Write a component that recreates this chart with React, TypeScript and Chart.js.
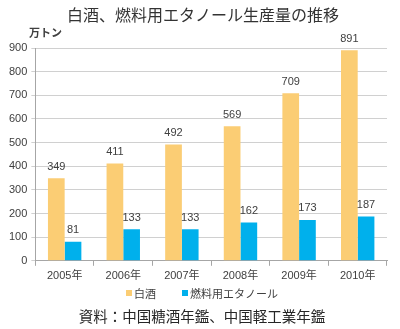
import React, { useEffect, useRef } from "react";
import { Chart, registerables } from "chart.js";

Chart.register(...registerables);

const categories = ["2005年", "2006年", "2007年", "2008年", "2009年", "2010年"];
const baijiu = [349, 411, 492, 569, 709, 891];
const ethanol = [81, 133, 133, 162, 173, 187];
const seriesNames = ["白酒", "燃料用エタノール"];
const seriesColors = ["#FBCD74", "#00B0EC"];
const titleText = "白酒、燃料用エタノール生産量の推移";
const unitText = "万トン";
const sourceText = "資料：中国糖酒年鑑、中国軽工業年鑑";

const JP = "'Noto Sans CJK JP', 'Noto Sans', sans-serif";
const NUM = "'Liberation Sans', 'Noto Sans CJK JP', sans-serif";

const extrasPlugin = {
  id: "extras",
  afterDatasetsDraw(chart: any) {
    const ctx = chart.ctx;
    ctx.save();
    ctx.fillStyle = "#404040";
    ctx.font = `11px ${NUM}`;
    ctx.textAlign = "center";
    ctx.textBaseline = "bottom";
    chart.data.datasets.forEach((ds: any, i: number) => {
      const meta = chart.getDatasetMeta(i);
      meta.data.forEach((el: any, j: number) => {
        ctx.fillText(String(ds.data[j]), el.x, el.y - 6);
      });
    });
    ctx.restore();
  },
  afterDraw(chart: any) {
    const ctx = chart.ctx;
    ctx.save();
    ctx.fillStyle = "#333333";
    ctx.textAlign = "center";
    ctx.textBaseline = "middle";
    ctx.font = `16px ${JP}`;
    ctx.fillText(titleText, 203, 15);
    ctx.font = `bold 11px ${JP}`;
    ctx.fillStyle = "#404040";
    ctx.textAlign = "left";
    ctx.fillText(unitText, 29, 33);
    // legend
    ctx.font = `11px ${JP}`;
    const legendX = [126, 182];
    chart.data.datasets.forEach((ds: any, i: number) => {
      ctx.fillStyle = seriesColors[i];
      ctx.fillRect(legendX[i], 290, 6, 6);
      ctx.fillStyle = "#404040";
      ctx.fillText(ds.label, legendX[i] + 8, 293.5);
    });
    ctx.font = `14.5px ${JP}`;
    ctx.fillStyle = "#262626";
    ctx.textAlign = "center";
    ctx.fillText(sourceText, 202, 316);
    ctx.restore();
  },
};

export default function App() {
  const ref = useRef<HTMLCanvasElement>(null);
  useEffect(() => {
    document.body.style.margin = "0";
    const chart = new Chart(ref.current!, {
      type: "bar",
      data: {
        labels: categories,
        datasets: [
          { label: seriesNames[0], data: baijiu, backgroundColor: seriesColors[0], categoryPercentage: 0.57, barPercentage: 1 },
          { label: seriesNames[1], data: ethanol, backgroundColor: seriesColors[1], categoryPercentage: 0.57, barPercentage: 1 },
        ],
      },
      options: {
        responsive: false,
        animation: false,
        layout: { padding: { top: 48, left: 5, right: 13, bottom: 42 } },
        plugins: {
          title: { display: false },
          tooltip: { enabled: false },
          legend: { display: false },
        },
        scales: {
          x: {
            grid: { drawOnChartArea: false, drawTicks: true, tickLength: 5, color: "#A6A6A6", offset: true },
            border: { color: "#A6A6A6" },
            ticks: { color: "#404040", font: { size: 11, family: NUM }, padding: 4 },
          },
          y: {
            min: 0,
            max: 900,
            ticks: { stepSize: 100, color: "#404040", font: { size: 11, family: NUM }, padding: 4 },
            grid: { color: "#D0D0D0", tickLength: 4 },
            border: { color: "#A6A6A6" },
          },
        },
      },
      plugins: [extrasPlugin],
    });
    return () => chart.destroy();
  }, []);
  return <canvas ref={ref} width={400} height={329} />;
}
